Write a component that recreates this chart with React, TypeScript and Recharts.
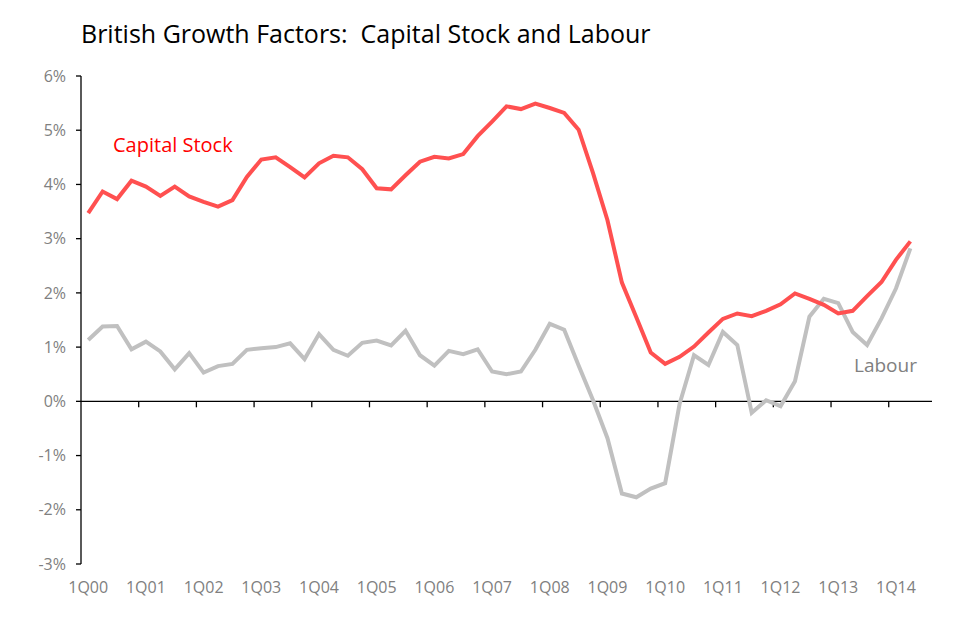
import React from "react";
import { LineChart, Line, XAxis, YAxis, ReferenceLine } from "recharts";

// quarters 1Q00 .. 3Q14 (59 slots, last one empty)
const years = ["00", "01", "02", "03", "04", "05", "06", "07", "08", "09", "10", "11", "12", "13", "14"];
const quarters = years.flatMap((y) => ["1Q", "2Q", "3Q", "4Q"].map((q) => q + y)).slice(0, 59);

const capitalStock = [
  3.47, 3.87, 3.73, 4.07, 3.96, 3.79, 3.96, 3.78, 3.68, 3.59,
  3.71, 4.14, 4.46, 4.5, 4.32, 4.13, 4.39, 4.53, 4.5, 4.28,
  3.93, 3.91, 4.17, 4.42, 4.51, 4.48, 4.56, 4.89, 5.16, 5.44,
  5.39, 5.49, 5.41, 5.32, 5.01, 4.21, 3.34, 2.19, 1.55, 0.9,
  0.69, 0.82, 1.01, 1.27, 1.52, 1.62, 1.57, 1.67, 1.79, 1.99,
  1.89, 1.78, 1.62, 1.67, 1.94, 2.2, 2.61, 2.95,
];

const labour = [
  1.13, 1.38, 1.39, 0.96, 1.1, 0.92, 0.59, 0.89, 0.53, 0.65,
  0.69, 0.95, 0.98, 1.0, 1.07, 0.78, 1.24, 0.95, 0.84, 1.08,
  1.12, 1.03, 1.3, 0.85, 0.66, 0.93, 0.87, 0.96, 0.55, 0.5,
  0.55, 0.95, 1.43, 1.32, 0.66, 0.02, -0.68, -1.7, -1.77, -1.61,
  -1.51, -0.05, 0.85, 0.67, 1.28, 1.04, -0.21, 0.02, -0.09, 0.37,
  1.56, 1.89, 1.81, 1.28, 1.04, 1.53, 2.08, 2.82,
];

const yTicks = [-3, -2, -1, 0, 1, 2, 3, 4, 5, 6];
// every 4th quarter gets a label, tick marks sit between categories
const labelSlots = [0, 4, 8, 12, 16, 20, 24, 28, 32, 36, 40, 44, 48, 52, 56];
const tickMarks = [4, 8, 12, 16, 20, 24, 28, 32, 36, 40, 44, 48, 52, 56];

const data = capitalStock.map((v, i) => ({
  x: i + 0.5,
  quarter: quarters[i],
  capital: v,
  labour: labour[i],
}));

const FONT = "'Open Sans', 'Noto Sans', sans-serif";
const GREY_TEXT = "#808080";

export default function App() {
  return (
    <div style={{ position: "relative", width: 960, height: 621, fontFamily: FONT }}>
      <div
        style={{
          position: "absolute",
          left: 73,
          top: 13,
          fontSize: 25,
          lineHeight: 1,
          color: "#000",
          whiteSpace: "pre",
        }}
      >
        British Growth Factors:  Capital Stock and Labour
      </div>
      <LineChart
        width={960}
        height={621}
        data={data}
        margin={{ top: 68, right: 36, bottom: 35, left: 13 }}
      >
        <XAxis
          type="number"
          dataKey="x"
          domain={[0, 59]}
          ticks={labelSlots.map((i) => i + 0.5)}
          tickFormatter={(v) => quarters[Math.floor(v)]}
          interval={0}
          axisLine={false}
          tickLine={false}
          tickSize={0}
          tickMargin={18}
          height={30}
          tick={{ fill: GREY_TEXT, fontSize: 16, fontFamily: FONT }}
        />
        <YAxis
          domain={[-3, 6]}
          ticks={yTicks}
          interval={0}
          tickFormatter={(v) => `${v}%`}
          width={60}
          axisLine={{ stroke: "#000", strokeWidth: 1.3 }}
          tickLine={{ stroke: "#000", strokeWidth: 1.3 }}
          tickSize={5}
          tickMargin={10}
          tick={{ fill: GREY_TEXT, fontSize: 16, fontFamily: FONT }}
        />
        <ReferenceLine y={0} stroke="#000" strokeWidth={1.3} />
        {tickMarks.map((t) => (
          <ReferenceLine
            key={t}
            segment={[
              { x: t, y: 0 },
              { x: t, y: -0.11 },
            ]}
            stroke="#000"
            strokeWidth={1.3}
          />
        ))}
        <Line
          type="linear"
          dataKey="labour"
          stroke="#c0c0c0"
          strokeWidth={4}
          dot={false}
          isAnimationActive={false}
        />
        <Line
          type="linear"
          dataKey="capital"
          stroke="#ff5050"
          strokeWidth={4}
          dot={false}
          isAnimationActive={false}
        />
      </LineChart>
      <div
        style={{
          position: "absolute",
          left: 105,
          top: 127,
          fontSize: 20,
          lineHeight: 1,
          color: "#ff0000",
        }}
      >
        Capital Stock
      </div>
      <div
        style={{
          position: "absolute",
          left: 846,
          top: 348,
          fontSize: 19,
          lineHeight: 1,
          color: GREY_TEXT,
        }}
      >
        Labour
      </div>
    </div>
  );
}
